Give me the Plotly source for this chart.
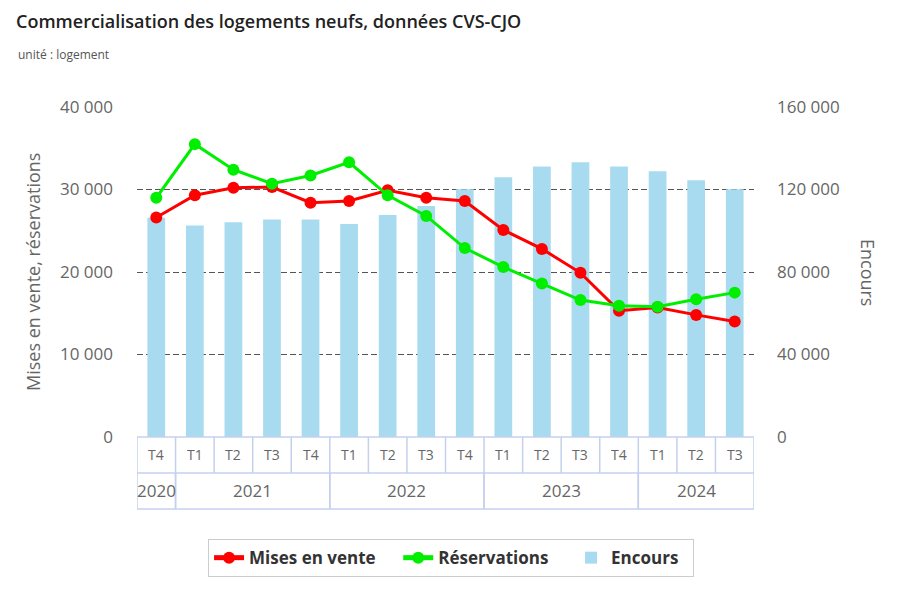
import numpy as np
import plotly.graph_objects as go

years = ["2020", "2021", "2021", "2021", "2021", "2022", "2022", "2022", "2022",
         "2023", "2023", "2023", "2023", "2024", "2024", "2024"]
quarters = ["T4", "T1", "T2", "T3", "T4", "T1", "T2", "T3", "T4",
            "T1", "T2", "T3", "T4", "T1", "T2", "T3"]
mises_en_vente = [26600, 29300, 30200, 30300, 28400, 28600, 29900, 29000,
                  28600, 25100, 22800, 19900, 15300, 15700, 14800, 14000]
reservations = [29000, 35500, 32400, 30700, 31700, 33300, 29300, 26800,
                22900, 20600, 18600, 16600, 15900, 15800, 16700, 17500]
encours = [106300, 102600, 104100, 105500, 105500, 103300, 107600, 112000,
           120100, 125900, 131100, 133200, 131100, 128800, 124500, 120100]
left_ticks = [0, 10000, 20000, 30000, 40000]
right_ticks = [0, 40000, 80000, 120000, 160000]

FONT = "Open Sans"
GRAY = "#666666"
BORDER = "#c5d0ee"
PAD = "&nbsp;" * 4

idx = np.arange(len(quarters))

fig = go.Figure()
fig.add_trace(go.Bar(
    x=idx, y=encours, name="Encours" + "&nbsp;&nbsp;", yaxis="y",
    marker=dict(color="#a9dbf0", line=dict(width=0)),
    legendrank=3,
))
fig.add_trace(go.Scatter(
    x=idx, y=mises_en_vente, name="Mises en vente" + PAD, yaxis="y2",
    mode="lines+markers", line=dict(color="#ff0000", width=3),
    marker=dict(color="#ff0000", size=12), legendrank=1,
))
fig.add_trace(go.Scatter(
    x=idx, y=reservations, name="Réservations" + PAD, yaxis="y2",
    mode="lines+markers", line=dict(color="#00ee00", width=3),
    marker=dict(color="#00ee00", size=12), legendrank=2,
))

shapes = []
annotations = []
row1_top, row1_bot, row2_bot = 0.0, -0.109, -0.218
n = len(quarters)
for yv in (row1_top, row1_bot, row2_bot):
    shapes.append(dict(type="line", xref="x", yref="paper", x0=-0.5, x1=n - 0.5,
                       y0=yv, y1=yv, line=dict(color=BORDER, width=1.5)))
for i in range(n + 1):
    shapes.append(dict(type="line", xref="x", yref="paper", x0=i - 0.5, x1=i - 0.5,
                       y0=row1_bot, y1=row1_top, line=dict(color=BORDER, width=1.5)))
groups = []
start = 0
for i in range(1, n + 1):
    if i == n or years[i] != years[start]:
        groups.append((years[start], start, i - 1))
        start = i
for yr, a, b in groups:
    for xv in (a - 0.5, b + 0.5):
        shapes.append(dict(type="line", xref="x", yref="paper", x0=xv, x1=xv,
                           y0=row2_bot, y1=row1_bot, line=dict(color=BORDER, width=1.5)))
    annotations.append(dict(x=(a + b) / 2, y=(row1_bot + row2_bot) / 2, xref="x", yref="paper",
                            text=yr, showarrow=False, font=dict(family=FONT, size=17, color=GRAY),
                            xanchor="center", yanchor="middle"))
for i, q in enumerate(quarters):
    annotations.append(dict(x=i, y=(row1_top + row1_bot) / 2, xref="x", yref="paper",
                            text=q, showarrow=False, font=dict(family=FONT, size=14, color=GRAY),
                            xanchor="center", yanchor="middle"))

annotations.append(dict(xref="paper", yref="paper", x=-0.1961, y=1.1576, text="unité : logement",
                        showarrow=False, font=dict(family=FONT, size=12, color="#555555"),
                        xanchor="left", yanchor="middle"))
annotations.append(dict(xref="paper", yref="paper", x=-0.1686, y=0.5, text="Mises en vente, réservations",
                        textangle=-90, showarrow=False, font=dict(family=FONT, size=18, color=GRAY),
                        xanchor="center", yanchor="middle"))
annotations.append(dict(xref="paper", yref="paper", x=1.1848, y=0.5, text="Encours",
                        textangle=90, showarrow=False, font=dict(family=FONT, size=18, color=GRAY),
                        xanchor="center", yanchor="middle"))

fig.update_layout(
    width=892, height=592,
    margin=dict(l=129, r=146, t=99, b=163),
    paper_bgcolor="white", plot_bgcolor="white",
    separators=", ",
    font=dict(family=FONT, color=GRAY),
    title=dict(
        text="Commercialisation des logements neufs, données CVS-CJO",
        x=0.009, xanchor="left", y=0.9764, yanchor="middle", xref="container", yref="container",
        font=dict(family=FONT, size=18, color="#222222", weight=600),
    ),
    bargap=0.54,
    xaxis=dict(range=[-0.5, n - 0.5], showticklabels=False, showgrid=False,
               zeroline=False, showline=False, ticks=""),
    yaxis=dict(side="right", range=[0, 160000], tickvals=right_ticks, tickformat=",d",
               showgrid=False, zeroline=False, showline=False,
               tickfont=dict(family=FONT, size=17, color=GRAY), ticklabelstandoff=22),
    yaxis2=dict(side="left", overlaying="y", range=[0, 40000], tickvals=left_ticks, tickformat=",d",
                showgrid=True, gridcolor="#555555", griddash="6px,3px", gridwidth=1,
                zeroline=False, showline=False,
                tickfont=dict(family=FONT, size=17, color=GRAY), ticklabelstandoff=23),
    legend=dict(orientation="h", x=0.509, xanchor="center", y=-0.367, yanchor="middle",
                bgcolor="white", bordercolor="#cccccc", borderwidth=1,
                font=dict(family=FONT, size=17, color="#333333", weight="bold"),
                itemsizing="constant", traceorder="normal"),
    shapes=shapes,
    annotations=annotations,
    showlegend=True,
)

fig.write_html("out.html")
